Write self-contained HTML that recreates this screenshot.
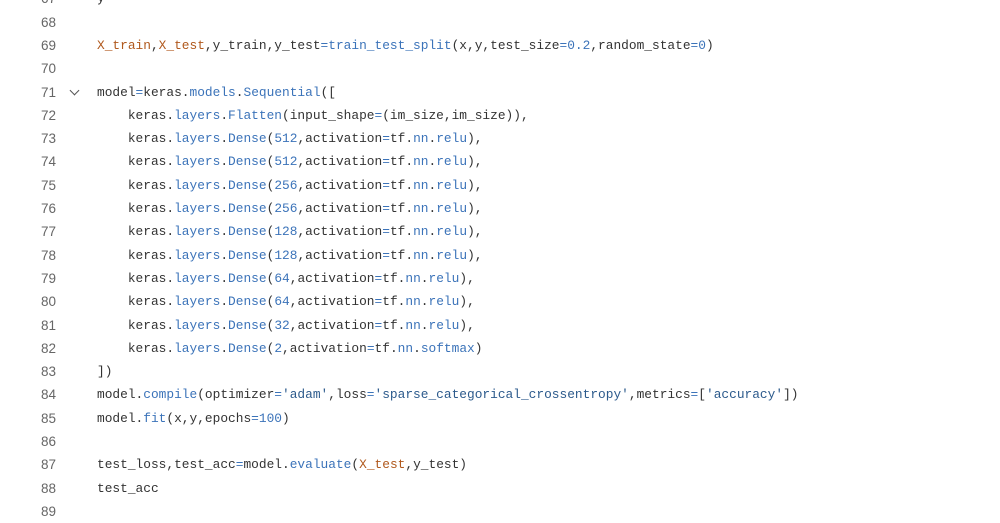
<!DOCTYPE html>
<html><head><meta charset="utf-8"><style>
body{margin:0;width:1000px;height:514px;background:#fff;overflow:hidden;position:relative;font-family:"Liberation Mono",monospace;font-size:12.85px;color:#333}
.l{position:absolute;left:0;height:23.3px;line-height:23.3px;white-space:pre;width:1000px}
.n{position:absolute;left:0;top:0;width:56px;text-align:right;color:#666;font-family:"Liberation Sans",sans-serif;font-size:13.5px;line-height:23.3px}
.c{position:absolute;left:97px}
.v{color:#b0581c}.f{color:#3b73b9}.s{color:#2c5a8c}.k{color:#3b73b9}.o{color:#3b73b9}
.chev{position:absolute;left:71px;top:6px;width:6px;height:6px;border-right:1.3px solid #555;border-bottom:1.3px solid #555;transform:rotate(45deg)}
</style></head><body>
<div class="l" style="top:-12.7px"><span class="n">67</span><span class="c">y</span></div>
<div class="l" style="top:10.6px"><span class="n">68</span></div>
<div class="l" style="top:33.9px"><span class="n">69</span><span class="c"><span class="v">X_train</span>,<span class="v">X_test</span>,y_train,y_test<span class="o">=</span><span class="f">train_test_split</span>(x,y,test_size<span class="o">=</span><span class="k">0.2</span>,random_state<span class="o">=</span><span class="k">0</span>)</span></div>
<div class="l" style="top:57.2px"><span class="n">70</span></div>
<div class="l" style="top:80.5px"><span class="n">71</span><span class="chev"></span><span class="c">model<span class="o">=</span>keras.<span class="f">models</span>.<span class="f">Sequential</span>([</span></div>
<div class="l" style="top:103.8px"><span class="n">72</span><span class="c">    keras.<span class="f">layers</span>.<span class="f">Flatten</span>(input_shape<span class="o">=</span>(im_size,im_size)),</span></div>
<div class="l" style="top:127.1px"><span class="n">73</span><span class="c">    keras.<span class="f">layers</span>.<span class="f">Dense</span>(<span class="k">512</span>,activation<span class="o">=</span>tf.<span class="f">nn</span>.<span class="f">relu</span>),</span></div>
<div class="l" style="top:150.4px"><span class="n">74</span><span class="c">    keras.<span class="f">layers</span>.<span class="f">Dense</span>(<span class="k">512</span>,activation<span class="o">=</span>tf.<span class="f">nn</span>.<span class="f">relu</span>),</span></div>
<div class="l" style="top:173.7px"><span class="n">75</span><span class="c">    keras.<span class="f">layers</span>.<span class="f">Dense</span>(<span class="k">256</span>,activation<span class="o">=</span>tf.<span class="f">nn</span>.<span class="f">relu</span>),</span></div>
<div class="l" style="top:197px"><span class="n">76</span><span class="c">    keras.<span class="f">layers</span>.<span class="f">Dense</span>(<span class="k">256</span>,activation<span class="o">=</span>tf.<span class="f">nn</span>.<span class="f">relu</span>),</span></div>
<div class="l" style="top:220.3px"><span class="n">77</span><span class="c">    keras.<span class="f">layers</span>.<span class="f">Dense</span>(<span class="k">128</span>,activation<span class="o">=</span>tf.<span class="f">nn</span>.<span class="f">relu</span>),</span></div>
<div class="l" style="top:243.6px"><span class="n">78</span><span class="c">    keras.<span class="f">layers</span>.<span class="f">Dense</span>(<span class="k">128</span>,activation<span class="o">=</span>tf.<span class="f">nn</span>.<span class="f">relu</span>),</span></div>
<div class="l" style="top:266.9px"><span class="n">79</span><span class="c">    keras.<span class="f">layers</span>.<span class="f">Dense</span>(<span class="k">64</span>,activation<span class="o">=</span>tf.<span class="f">nn</span>.<span class="f">relu</span>),</span></div>
<div class="l" style="top:290.2px"><span class="n">80</span><span class="c">    keras.<span class="f">layers</span>.<span class="f">Dense</span>(<span class="k">64</span>,activation<span class="o">=</span>tf.<span class="f">nn</span>.<span class="f">relu</span>),</span></div>
<div class="l" style="top:313.5px"><span class="n">81</span><span class="c">    keras.<span class="f">layers</span>.<span class="f">Dense</span>(<span class="k">32</span>,activation<span class="o">=</span>tf.<span class="f">nn</span>.<span class="f">relu</span>),</span></div>
<div class="l" style="top:336.8px"><span class="n">82</span><span class="c">    keras.<span class="f">layers</span>.<span class="f">Dense</span>(<span class="k">2</span>,activation<span class="o">=</span>tf.<span class="f">nn</span>.<span class="f">softmax</span>)</span></div>
<div class="l" style="top:360.1px"><span class="n">83</span><span class="c">])</span></div>
<div class="l" style="top:383.4px"><span class="n">84</span><span class="c">model.<span class="f">compile</span>(optimizer<span class="o">=</span><span class="s">'adam'</span>,loss<span class="o">=</span><span class="s">'sparse_categorical_crossentropy'</span>,metrics<span class="o">=</span>[<span class="s">'accuracy'</span>])</span></div>
<div class="l" style="top:406.7px"><span class="n">85</span><span class="c">model.<span class="f">fit</span>(x,y,epochs<span class="o">=</span><span class="k">100</span>)</span></div>
<div class="l" style="top:430px"><span class="n">86</span></div>
<div class="l" style="top:453.3px"><span class="n">87</span><span class="c">test_loss,test_acc<span class="o">=</span>model.<span class="f">evaluate</span>(<span class="v">X_test</span>,y_test)</span></div>
<div class="l" style="top:476.6px"><span class="n">88</span><span class="c">test_acc</span></div>
<div class="l" style="top:499.9px"><span class="n">89</span></div>
</body></html>
